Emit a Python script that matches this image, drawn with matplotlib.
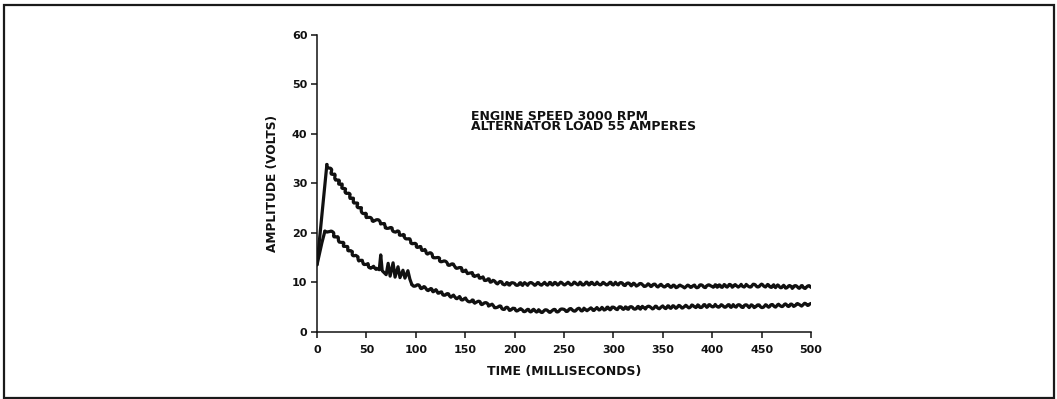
import matplotlib
matplotlib.use("Agg")
import matplotlib.pyplot as plt
from matplotlib.patches import Rectangle

# Alternator output amplitude after load is applied (envelope readings)
time_upper = [0, 10, 15, 20, 30, 40, 50, 55, 60, 65, 70, 80, 90, 100, 110, 120,
              130, 140, 150, 160, 170, 180, 190, 200, 250, 300, 330, 370, 400,
              450, 480, 500]
volts_upper = [13.5, 33.8, 32.2, 30.8, 28.2, 25.8, 23.4, 22.6, 22.5, 22.0, 21.2,
               20.3, 19.0, 17.5, 16.2, 15.0, 13.9, 13.2, 12.2, 11.4, 10.6, 10.0,
               9.7, 9.6, 9.7, 9.7, 9.4, 9.1, 9.2, 9.3, 9.0, 9.0]

time_lower = [0, 5, 8, 12, 16, 20, 25, 30, 35, 40, 45, 50, 55, 60, 63, 64.5, 66,
              70, 72, 74, 77, 79, 82, 84, 87, 89, 92, 94, 96, 100, 110, 120, 130,
              140, 150, 160, 170, 180, 190, 200, 230, 250, 300, 350, 400, 450, 500]
volts_lower = [13.5, 18.0, 20.3, 20.4, 19.8, 19.0, 18.0, 17.0, 16.0, 15.0, 14.2,
               13.6, 13.0, 12.8, 12.5, 15.5, 12.3, 11.5, 13.8, 11.2, 13.9, 11.0,
               13.1, 10.9, 12.4, 10.8, 12.3, 10.6, 9.5, 9.3, 8.7, 8.2, 7.5, 7.0,
               6.5, 6.0, 5.6, 5.1, 4.7, 4.4, 4.1, 4.3, 4.7, 4.9, 5.2, 5.1, 5.5]

x_ticks = [0, 50, 100, 150, 200, 250, 300, 350, 400, 450, 500]
y_ticks = [0, 10, 20, 30, 40, 50, 60]

x_label = "TIME (MILLISECONDS)"
y_label = "AMPLITUDE (VOLTS)"
note_lines = ["ENGINE SPEED 3000 RPM", "ALTERNATOR LOAD 55 AMPERES"]

plt.rcParams["font.family"] = ["DejaVu Sans"]
plt.rcParams["font.weight"] = "bold"

fig = plt.figure(figsize=(10.57, 3.99), dpi=100)
fig.patch.set_facecolor("white")

# outer frame around the figure
fig.patches.append(Rectangle((4 / 1057, 1.5 / 399), 1050 / 1057, 392.5 / 399,
                             transform=fig.transFigure, fill=False,
                             edgecolor="#1a1a1a", linewidth=1.6))

ax = fig.add_axes([317 / 1057, (399 - 331.5) / 399,
                   (811 - 317) / 1057, (331.5 - 35) / 399])

ink = "#111111"


def draw_trace(t, v, plain_spans):
    """Draw a trace; steep parts are plain, the rest carries the ripple."""
    n = len(t)
    # split indices into runs that are either plain or rippled
    flags = []
    for i in range(n - 1):
        mid = 0.5 * (t[i] + t[i + 1])
        flags.append(any(a <= mid <= b for a, b in plain_spans))
    start = 0
    for i in range(1, n):
        if i == n - 1 or flags[i] != flags[start]:
            seg_t = t[start:i + 1]
            seg_v = v[start:i + 1]
            line, = ax.plot(seg_t, seg_v, color=ink, linewidth=2.3,
                            solid_joinstyle="round", solid_capstyle="round")
            if not flags[start]:
                line.set_sketch_params(scale=1.4, length=7, randomness=2)
            start = i


draw_trace(time_upper, volts_upper, [(0, 10)])
draw_trace(time_lower, volts_lower, [(0, 8), (60, 96)])

ax.set_xlim(0, 500)
ax.set_ylim(0, 60)
ax.set_xticks(x_ticks)
ax.set_yticks(y_ticks)
ax.set_xticklabels([str(v) for v in x_ticks])
ax.set_yticklabels([str(v) for v in y_ticks])

for side in ("top", "right"):
    ax.spines[side].set_visible(False)
for side in ("left", "bottom"):
    ax.spines[side].set_linewidth(1.1)
    ax.spines[side].set_color(ink)

ax.tick_params(axis="both", direction="out", length=4, width=1.1, color=ink,
               labelsize=8, labelcolor=ink)
ax.tick_params(axis="x", pad=6)
ax.tick_params(axis="y", pad=3)
for lab in ax.get_xticklabels() + ax.get_yticklabels():
    lab.set_fontweight("bold")

ax.set_xlabel(x_label, fontsize=9.0, fontweight="bold", color=ink, labelpad=7)
ax.set_ylabel(y_label, fontsize=8.7, fontweight="bold", color=ink, labelpad=9)
ax.patch.set_alpha(0)

ax.text(155.5, 44.9, "\n".join(note_lines), fontsize=9.0, fontweight="bold",
        color=ink, ha="left", va="top", linespacing=0.78)

fig.savefig("out.png", dpi=100, facecolor="white")
